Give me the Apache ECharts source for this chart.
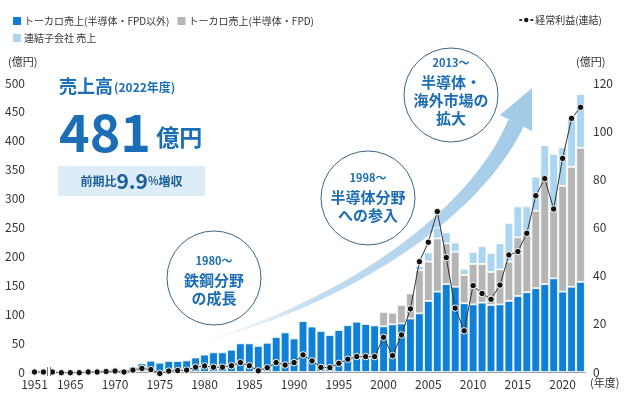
<!DOCTYPE html>
<html><head><meta charset="utf-8">
<script src="https://cdn.jsdelivr.net/npm/echarts@6/dist/echarts.min.js"></script>
<style>html,body{margin:0;padding:0;background:#fff}#c{width:629px;height:406px}</style>
</head><body><div id="c"></div>
<script>
const categories = ['1951','1952','1963','1964','1965','1966','1967','1968','1969','1970','1971','1972','1973','1974','1975','1976','1977','1978','1979','1980','1981','1982','1983','1984','1985','1986','1987','1988','1989','1990','1991','1992','1993','1994','1995','1996','1997','1998','1999','2000','2001','2002','2003','2004','2005','2006','2007','2008','2009','2010','2011','2012','2013','2014','2015','2016','2017','2018','2019','2020','2021','2022'];
const tickLabels = ['1951','1965','1970','1975','1980','1985','1990','1995','2000','2005','2010','2015','2020'];
const seriesNames = ['トーカロ売上(半導体・FPD以外)','トーカロ売上(半導体・FPD)','連結子会社 売上','経常利益(連結)'];
// トーカロ売上（半導体・FPD以外）
const salesOther = [0.5,0.5,1,1,1.5,1.5,2,3,4,6,5,9,15,19.5,16,19,19,20,25,30,34,34,38.5,49.5,49.5,45,50.5,60.5,68.5,58,88,78.5,71,64,72.5,81,87,83,80.5,79,82.5,84,92.5,101.5,123,139,152,147.5,119,117,120,116,117,123,131.5,138,145,152,162,139,147.5,156];
// トーカロ売上（半導体・FPD）
const salesSemi = [null,null,null,null,null,null,null,null,null,null,null,null,null,null,null,null,null,null,null,null,null,null,null,null,null,null,null,null,null,null,null,null,null,null,null,null,null,null,null,25,20,32,43.5,74.5,68,92,70.5,60.5,49,70,67,57,60.5,68,101.5,101,134,182.5,120.5,183,207.5,232];
// 連結子会社 売上
const salesSub = [null,null,null,null,null,null,null,null,null,null,null,null,null,null,null,null,null,null,null,null,null,null,null,null,null,null,null,null,null,null,null,null,null,null,null,null,null,null,null,null,null,null,null,7.5,16,19,19,16,10.5,20.5,31,33,45,67,53.5,47.5,59,58,94.5,66.5,83,93];
// 経常利益（連結）
const profit = [0,0,0,-0.3,-0.3,-0.3,0,0,0.2,0.4,0,0.8,1.5,1,-0.6,0.4,0.6,0.8,2,2.5,2,2,2.6,3.9,2.6,0.5,1.8,3.9,2.9,3.9,7.1,4.6,1.9,1.8,3.6,5.3,6.4,6.4,6.4,14.4,6.8,15.4,26.2,45.8,53.9,66.6,47.5,26.5,17.1,35.9,32.6,30.2,36.1,48.6,50,57.6,73.2,80.3,67.7,88.7,105.3,109.9];
const leftTicks = {min:0,max:500,interval:50};
const rightTicks = {min:0,max:120,interval:20};

const FONT = '"Noto Sans CJK JP", "Noto Sans", sans-serif';
const BLUE = '#0f80d5', GRAY = '#b5b5b5', LBLUE = '#acd5f1';
const TXT = '#1b6db5';

// decorative growth arrow
function arrowBand(){
  const P = [[200,342],[330,308],[471,223],[516,123]];
  const up = [], lo = [];
  const N = 60;
  for (let i=0;i<=N;i++){
    const t=i/N, u=1-t;
    const x = u*u*u*P[0][0]+3*u*u*t*P[1][0]+3*u*t*t*P[2][0]+t*t*t*P[3][0];
    const y = u*u*u*P[0][1]+3*u*u*t*P[1][1]+3*u*t*t*P[2][1]+t*t*t*P[3][1];
    const dx = 3*u*u*(P[1][0]-P[0][0])+6*u*t*(P[2][0]-P[1][0])+3*t*t*(P[3][0]-P[2][0]);
    const dy = 3*u*u*(P[1][1]-P[0][1])+6*u*t*(P[2][1]-P[1][1])+3*t*t*(P[3][1]-P[2][1]);
    const L = Math.hypot(dx,dy);
    const nx = -dy/L, ny = dx/L;
    const h = 0.4 + 8*Math.pow(t,1.1);
    up.push([x+nx*h, y+ny*h]); lo.push([x-nx*h, y-ny*h]);
  }
  return up.concat(lo.reverse());
}
const grad = new echarts.graphic.LinearGradient(200,342,520,110,[
  {offset:0,color:'rgba(166,205,233,0)'},
  {offset:0.3,color:'rgba(166,205,233,0.7)'},
  {offset:1,color:'rgba(160,202,232,1)'}],true);

function circleGroup(cx, cy, lines){
  const children = [{type:'circle', shape:{cx:cx, cy:cy, r:47}, style:{fill:'#fff', stroke:'#3a6687', lineWidth:1}}];
  lines.forEach(l => children.push({type:'text', style:{x:cx, y:l[1], text:l[0], fill:TXT, font:'bold '+l[2]+'px '+FONT, textAlign:'center', textVerticalAlign:'middle'}}));
  return {type:'group', z:5, children:children};
}

const chart = echarts.init(document.getElementById('c'), null, {renderer:'canvas'});
const legendText = {fontSize:10, color:'#333', padding:[0,0,0,-3]};
const option = {
  animation:false,
  textStyle:{fontFamily:FONT},
  grid:{left:30, right:44, top:83, bottom:34},
  legend:[
    {data:[seriesNames[0], seriesNames[1]], left:6, top:10, itemWidth:10, itemHeight:10, itemGap:6, icon:'rect', textStyle:legendText},
    {data:[seriesNames[2]], left:6, top:27, itemWidth:10, itemHeight:10, icon:'rect', textStyle:legendText},
    {data:[seriesNames[3]], right:22, top:10, itemWidth:14, itemHeight:8, textStyle:legendText}
  ],
  xAxis:{type:'category', data:categories, axisLine:{lineStyle:{color:'#999', width:1}}, axisTick:{show:false},
    axisLabel:{interval:(i,v)=>tickLabels.indexOf(v)>=0, fontSize:12, color:'#333', margin:6, hideOverlap:false}},
  yAxis:[
    {type:'value', min:leftTicks.min, max:leftTicks.max, interval:leftTicks.interval, splitLine:{show:false},
     axisLabel:{fontSize:12, color:'#333', margin:5}},
    {type:'value', min:rightTicks.min, max:rightTicks.max, interval:rightTicks.interval, splitLine:{show:false},
     axisLabel:{fontSize:12, color:'#333', margin:8}}
  ],
  series:[
    {name:seriesNames[0], type:'bar', stack:'s', data:salesOther, barCategoryGap:'4%', itemStyle:{color:BLUE, borderColor:'#fff', borderWidth:0.8}},
    {name:seriesNames[1], type:'bar', stack:'s', data:salesSemi, itemStyle:{color:GRAY, borderColor:'#fff', borderWidth:0.8}},
    {name:seriesNames[2], type:'bar', stack:'s', data:salesSub, itemStyle:{color:LBLUE, borderColor:'#fff', borderWidth:0.8}},
    {name:seriesNames[3], type:'line', yAxisIndex:1, data:profit, clip:false, symbol:'circle', symbolSize:6.5, showAllSymbol:true,
     lineStyle:{color:'#333', width:1}, itemStyle:{color:'#111', borderColor:'#fff', borderWidth:1}, z:4}
  ],
  graphic:[
    {type:'polygon', z:1, shape:{points:arrowBand()}, style:{fill:grad}},
    {type:'polygon', z:1, shape:{points:[[500,115],[532,88],[532,131]]}, style:{fill:'#a2cbe8'}},
    circleGroup(214,278,[['1980～',261,11],['鉄鋼分野',280,15],['の成長',298,15]]),
    circleGroup(368,198,[['1998～',178,11],['半導体分野',197,15],['への参入',215,15]]),
    circleGroup(451,95,[['2013～',63,11],['半導体・',82,15],['海外市場の',100,15],['拡大',118,15]]),
    {type:'text', z:5, style:{x:59, y:86, text:'{a|売上高}{b|(2022年度)}', textVerticalAlign:'middle',
      rich:{a:{font:'bold 18px '+FONT, fill:TXT}, b:{font:'bold 12px '+FONT, fill:TXT, padding:[2,0,0,1]}}}},
    {type:'text', z:5, style:{x:59, y:132, text:'{a|481}{b| 億円}', textVerticalAlign:'middle',
      rich:{a:{font:'bold 52px '+FONT, fill:TXT}, b:{font:'bold 23px '+FONT, fill:TXT, padding:[10,0,0,0]}}}},
    {type:'rect', z:4, shape:{x:58, y:166, width:147, height:30}, style:{fill:'#ddedf8'}},
    {type:'text', z:5, style:{x:131.5, y:181, text:'{a|前期比}{b|9.9}{c|%}{a|増収}', textAlign:'center', textVerticalAlign:'middle',
      rich:{a:{font:'bold 12px '+FONT, fill:'#1d5f99'}, b:{font:'bold 21px '+FONT, fill:'#1d5f99'}, c:{font:'bold 11px '+FONT, fill:'#1d5f99'}}}},
    {type:'text', z:5, style:{x:8, y:62, text:'(億円)', font:'11px '+FONT, fill:'#333', textVerticalAlign:'middle'}},
    {type:'text', z:5, style:{x:576, y:62, text:'(億円)', font:'11px '+FONT, fill:'#333', textVerticalAlign:'middle'}},
    {type:'text', z:5, style:{x:590, y:383, text:'(年度)', font:'11px '+FONT, fill:'#333', textVerticalAlign:'middle'}},
    {type:'rect', z:6, shape:{x:47.5, y:367, width:3, height:9}, style:{fill:'#fff'}},
    {type:'line', z:6, shape:{x1:47.5, y1:367, x2:47.5, y2:376}, style:{stroke:'#777', lineWidth:1}},
    {type:'line', z:6, shape:{x1:50.5, y1:367, x2:50.5, y2:376}, style:{stroke:'#777', lineWidth:1}}
  ]
};
chart.setOption(option);
</script></body></html>
